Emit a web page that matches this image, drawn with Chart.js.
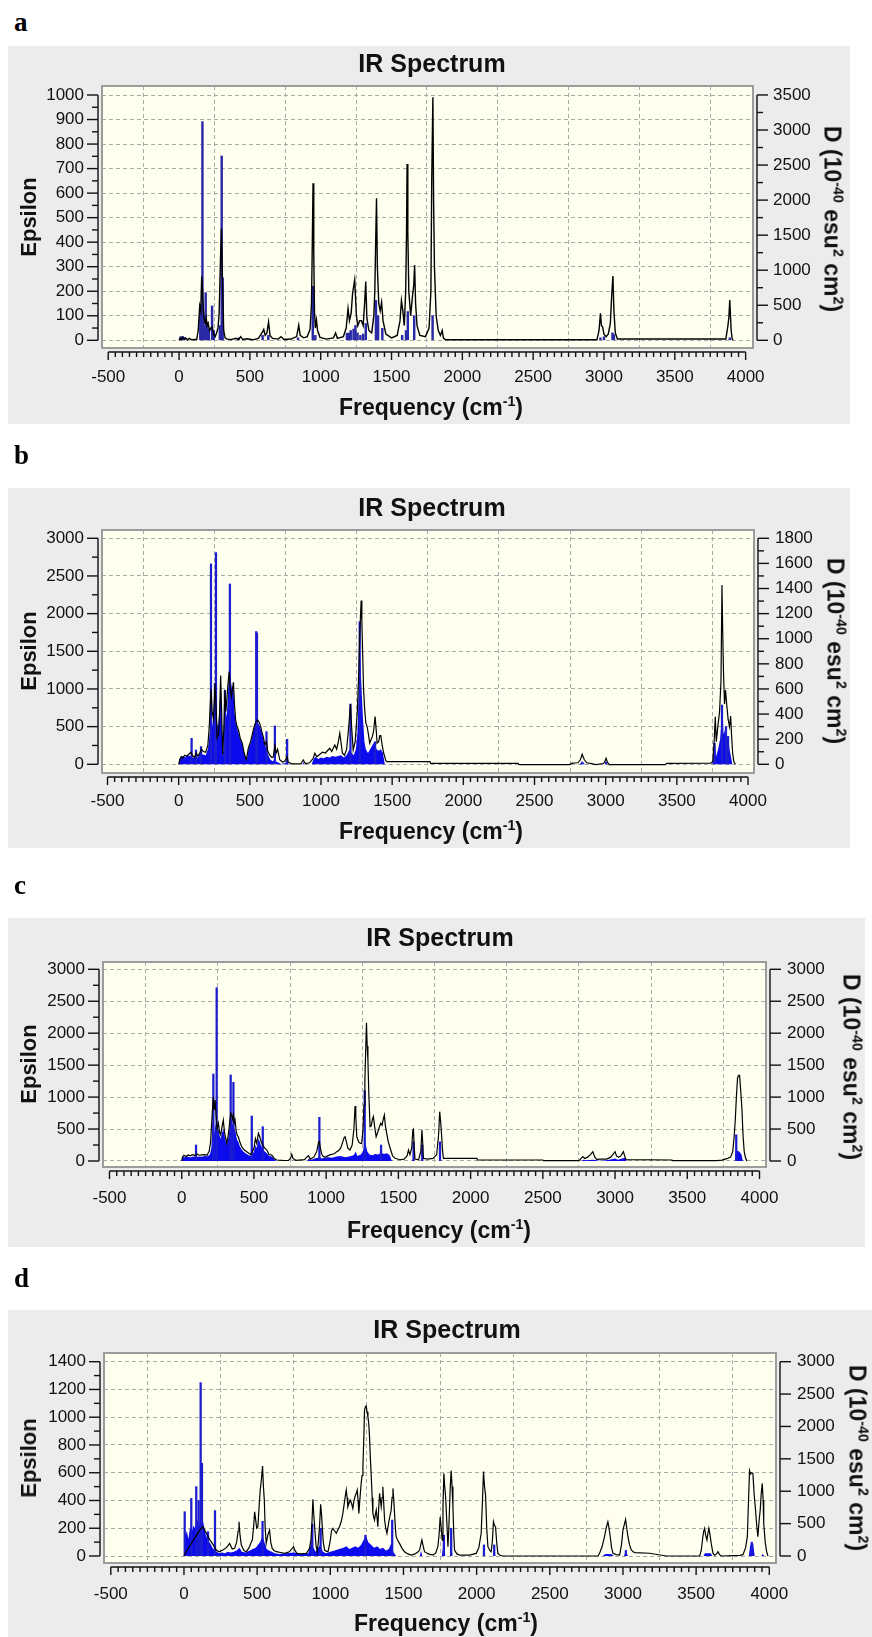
<!DOCTYPE html>
<html><head><meta charset="utf-8">
<script src="https://cdn.jsdelivr.net/npm/chart.js@4.4.0/dist/chart.umd.min.js"></script>
<style>
html,body{margin:0;padding:0;background:#fff;}
body{width:872px;height:1637px;position:relative;overflow:hidden;font-family:"Liberation Sans",Arial,Helvetica,sans-serif;}
.lab{position:absolute;font-family:"Liberation Serif","Times New Roman",serif;font-weight:bold;font-size:27px;line-height:1;color:#000;}
.panel{position:absolute;background:#ececec;}
.panel canvas{position:absolute;left:0;top:0;}
.t{position:absolute;font-weight:bold;white-space:nowrap;color:#111;line-height:1;transform:translate(-50%,-50%);}
.title{font-size:25px;}
.xt{font-size:23px;}
.yl{font-size:22px;transform:translate(-50%,-50%) rotate(-90deg);}
.yr{font-size:23px;transform:translate(-50%,-50%) rotate(90deg);}
sup{font-size:0.62em;vertical-align:baseline;position:relative;top:-0.6em;}
</style></head><body>

<div class="lab" style="left:14px;top:9px">a</div>
<div class="panel" style="left:8px;top:46px;width:842px;height:378px"><canvas id="ca" width="842" height="378" style="width:842px;height:378px"></canvas></div>
<div class="t title" style="left:432px;top:63px">IR Spectrum</div>
<div class="t xt" style="left:431px;top:407px">Frequency (cm<sup>-1</sup>)</div>
<div class="t yl" style="left:29px;top:217px">Epsilon</div>
<div class="t yr" style="left:832px;top:219px">D (10<sup>-40</sup> esu<sup>2</sup> cm<sup>2</sup>)</div>

<div class="lab" style="left:14px;top:442px">b</div>
<div class="panel" style="left:8px;top:488px;width:842px;height:360px"><canvas id="cb" width="842" height="360" style="width:842px;height:360px"></canvas></div>
<div class="t title" style="left:432px;top:507px">IR Spectrum</div>
<div class="t xt" style="left:431px;top:831px">Frequency (cm<sup>-1</sup>)</div>
<div class="t yl" style="left:29px;top:651px">Epsilon</div>
<div class="t yr" style="left:835px;top:651px">D (10<sup>-40</sup> esu<sup>2</sup> cm<sup>2</sup>)</div>

<div class="lab" style="left:14px;top:872px">c</div>
<div class="panel" style="left:8px;top:918px;width:857px;height:329px"><canvas id="cc" width="857" height="329" style="width:857px;height:329px"></canvas></div>
<div class="t title" style="left:440px;top:937px">IR Spectrum</div>
<div class="t xt" style="left:439px;top:1230px">Frequency (cm<sup>-1</sup>)</div>
<div class="t yl" style="left:29px;top:1064px">Epsilon</div>
<div class="t yr" style="left:851px;top:1067px">D (10<sup>-40</sup> esu<sup>2</sup> cm<sup>2</sup>)</div>

<div class="lab" style="left:14px;top:1265px">d</div>
<div class="panel" style="left:8px;top:1310px;width:864px;height:327px"><canvas id="cd" width="864" height="327" style="width:864px;height:327px"></canvas></div>
<div class="t title" style="left:447px;top:1329px">IR Spectrum</div>
<div class="t xt" style="left:446px;top:1623px">Frequency (cm<sup>-1</sup>)</div>
<div class="t yl" style="left:29px;top:1458px">Epsilon</div>
<div class="t yr" style="left:857px;top:1458px">D (10<sup>-40</sup> esu<sup>2</sup> cm<sup>2</sup>)</div>

<script>
// ---------- tick labels ----------
const xTicks = [-500,0,500,1000,1500,2000,2500,3000,3500,4000];
const aYTicks = [0,100,200,300,400,500,600,700,800,900,1000];
const aY2Ticks = [0,500,1000,1500,2000,2500,3000,3500];
const bYTicks = [0,500,1000,1500,2000,2500,3000];
const bY2Ticks = [0,200,400,600,800,1000,1200,1400,1600,1800];
const cYTicks = [0,500,1000,1500,2000,2500,3000];
const cY2Ticks = [0,500,1000,1500,2000,2500,3000];
const dYTicks = [0,200,400,600,800,1000,1200,1400];
const dY2Ticks = [0,500,1000,1500,2000,2500,3000];

// ---------- panel a ----------
// broadened spectrum [frequency cm-1, epsilon]
const aCurve = [[0,0],[8,10],[16,3],[26,12],[36,3],[48,9],[60,2],[72,8],[85,3],[100,2],[125,4],[135,40],[146,140],[153,120],[160,260],[166,200],[172,120],[180,75],[186,70],[192,90],[198,60],[205,70],[215,40],[225,50],[233,55],[242,30],[255,15],[265,30],[275,50],[283,110],[292,320],[299,456],[306,260],[315,40],[325,10],[340,5],[370,3],[400,8],[420,3],[435,15],[450,3],[480,6],[520,2],[560,8],[585,30],[598,45],[608,20],[620,30],[632,75],[642,20],[660,8],[700,5],[720,15],[740,3],[790,5],[830,15],[845,62],[855,20],[880,10],[905,15],[925,45],[935,150],[940,360],[946,640],[951,360],[956,120],[962,50],[970,83],[978,40],[995,12],[1040,5],[1090,10],[1105,30],[1118,8],[1160,15],[1180,50],[1193,130],[1203,80],[1215,110],[1225,190],[1240,246],[1252,100],[1262,60],[1275,80],[1288,80],[1300,60],[1310,150],[1318,240],[1326,90],[1340,40],[1360,30],[1375,100],[1382,200],[1387,361],[1394,579],[1400,300],[1410,150],[1420,120],[1430,155],[1440,80],[1460,25],[1500,10],[1540,20],[1560,80],[1570,162],[1580,120],[1590,60],[1600,200],[1606,440],[1610,719],[1615,443],[1622,200],[1635,100],[1648,180],[1657,226],[1663,307],[1670,150],[1680,60],[1700,20],[1740,15],[1765,50],[1778,200],[1784,654],[1792,991],[1797,572],[1803,300],[1815,100],[1830,40],[1845,20],[1858,40],[1866,10],[1880,2],[2950,2],[2965,40],[2975,110],[2982,60],[2990,55],[3000,25],[3015,15],[3030,25],[3045,70],[3055,190],[3063,262],[3070,120],[3080,30],[3095,5],[3860,5],[3875,60],[3882,95],[3888,164],[3893,100],[3898,40],[3905,5],[3912,0]];
// stick intensities [frequency, D]
const aSticks = [[12,50],[25,55],[40,40],[150,490],[158,500],[165,3120],[172,350],[180,200],[188,680],[200,250],[210,150],[233,490],[245,140],[288,210],[301,2630],[308,890],[420,35],[590,70],[630,70],[840,35],[944,770],[962,70],[1185,100],[1198,105],[1212,140],[1232,160],[1245,210],[1260,105],[1280,70],[1300,90],[1318,240],[1390,570],[1405,350],[1435,170],[1575,70],[1602,140],[1615,410],[1660,350],[1790,350],[2975,35],[3000,50],[3060,105],[3070,80],[3888,35]];

// ---------- panel b ----------
const bCurve = [[0,0],[8,60],[18,100],[30,80],[42,120],[55,110],[70,130],[85,160],[91,140],[100,110],[112,90],[122,150],[135,110],[148,150],[160,200],[173,170],[190,160],[205,250],[215,500],[222,800],[228,1000],[235,700],[245,600],[255,1075],[262,800],[270,350],[280,400],[288,700],[295,1180],[302,700],[309,130],[318,500],[325,990],[332,700],[340,900],[348,1100],[355,1230],[362,1000],[370,900],[378,1000],[385,1090],[392,800],[400,590],[410,500],[420,455],[432,350],[447,280],[460,150],[475,60],[490,220],[505,300],[515,380],[525,460],[535,530],[545,570],[555,590],[565,560],[575,510],[585,430],[595,360],[605,260],[617,300],[625,180],[640,120],[655,90],[665,100],[676,250],[685,150],[695,200],[710,60],[730,30],[745,40],[762,100],[770,30],[790,10],[830,5],[860,10],[875,58],[890,10],[920,20],[945,80],[957,146],[970,100],[990,130],[1010,160],[1030,150],[1050,190],[1062,212],[1075,170],[1090,230],[1097,257],[1110,200],[1122,300],[1132,412],[1140,300],[1150,150],[1165,120],[1180,200],[1195,500],[1207,801],[1215,500],[1226,190],[1240,300],[1255,700],[1265,1200],[1272,1700],[1277,1950],[1282,2173],[1287,1900],[1292,1518],[1299,1000],[1307,721],[1315,550],[1324,500],[1333,400],[1342,280],[1352,330],[1361,367],[1370,450],[1380,633],[1388,450],[1394,280],[1405,300],[1413,380],[1420,380],[1430,250],[1440,150],[1448,102],[1455,50],[1462,35],[1765,35],[1770,13],[2385,13],[2392,-4],[2745,-4],[2765,15],[2805,20],[2822,60],[2835,133],[2850,60],[2868,20],[2900,10],[2930,-4],[2985,10],[2995,40],[3003,80],[3012,30],[3025,-4],[3420,-4],[3428,12],[3740,15],[3752,40],[3762,300],[3770,632],[3777,300],[3788,500],[3800,700],[3810,1100],[3817,2380],[3822,1780],[3828,1200],[3835,800],[3842,986],[3850,800],[3860,600],[3870,500],[3878,640],[3884,400],[3892,150],[3900,40],[3910,0]];
const bSticks = [[91,207],[122,114],[157,141],[227,1596],[255,645],[262,1686],[325,588],[360,1436],[545,1057],[550,1044],[617,260],[676,305],[762,199],[1207,480],[1272,1136],[1380,180],[2835,18],[3003,18],[3765,168],[3817,472],[3845,300],[3860,222]];
// envelope of the dense stick forest [frequency, epsilon]
const bFill = [[0,0],[3,60],[15,100],[30,110],[45,90],[60,120],[80,110],[100,80],[115,100],[135,90],[150,150],[170,130],[190,120],[205,200],[212,300],[220,450],[228,700],[236,500],[245,700],[252,1000],[258,1075],[265,800],[272,500],[280,545],[288,800],[295,1100],[302,600],[309,100],[315,200],[320,700],[325,950],[332,700],[338,620],[345,900],[353,1150],[360,1200],[367,1100],[375,1000],[384,1050],[392,700],[400,560],[410,480],[419,430],[432,340],[447,260],[460,150],[477,40],[490,200],[505,280],[515,350],[525,450],[536,520],[548,560],[560,540],[571,500],[583,430],[594,350],[605,250],[617,200],[630,120],[645,60],[660,40],[676,60],[690,30],[705,20],[720,5],[740,15],[765,10],[790,0],[870,0],[875,30],[885,0],[935,0],[945,60],[960,100],[980,70],[1000,90],[1020,80],[1040,100],[1060,90],[1080,110],[1100,100],[1120,110],[1140,120],[1160,90],[1180,120],[1200,200],[1215,150],[1230,120],[1245,200],[1255,400],[1265,900],[1275,1400],[1285,1000],[1295,600],[1305,300],[1315,200],[1330,150],[1345,200],[1360,250],[1375,300],[1390,200],[1405,180],[1420,200],[1435,150],[1448,0],[2815,0],[2835,30],[2855,0],[2995,0],[3003,30],[3012,0],[3750,0],[3760,150],[3768,280],[3775,100],[3790,200],[3805,350],[3815,600],[3820,790],[3828,400],[3838,450],[3845,500],[3852,300],[3860,370],[3870,200],[3880,100],[3890,0]];

// ---------- panel c ----------
const cCurve = [[0,0],[5,60],[15,90],[30,70],[45,95],[60,80],[75,100],[90,85],[105,110],[120,90],[140,95],[160,100],[175,90],[190,150],[200,300],[210,700],[219,1000],[225,800],[231,955],[238,700],[245,500],[254,590],[262,450],[270,407],[280,550],[288,641],[296,450],[305,350],[312,276],[322,400],[332,600],[339,750],[346,720],[352,650],[358,720],[364,600],[369,641],[378,450],[385,400],[392,380],[402,300],[415,224],[430,180],[450,146],[465,120],[478,100],[490,150],[500,200],[510,350],[519,276],[525,350],[531,433],[540,380],[550,300],[561,250],[575,200],[589,172],[605,100],[623,94],[640,40],[658,16],[700,10],[740,8],[755,50],[762,104],[770,40],[790,10],[850,20],[865,60],[877,83],[890,30],[915,60],[935,150],[948,300],[953,302],[960,200],[970,100],[981,68],[995,60],[1010,80],[1030,100],[1050,110],[1065,130],[1073,146],[1085,160],[1100,200],[1115,300],[1125,370],[1131,380],[1140,300],[1150,200],[1165,172],[1180,250],[1192,500],[1200,860],[1205,700],[1212,380],[1225,300],[1237,276],[1246,276],[1255,500],[1262,876],[1268,1250],[1274,1763],[1279,2165],[1284,1800],[1289,1580],[1296,1000],[1304,537],[1312,550],[1320,650],[1327,694],[1335,550],[1346,380],[1357,450],[1369,537],[1378,590],[1387,560],[1395,650],[1403,720],[1410,550],[1419,433],[1430,300],[1447,172],[1460,80],[1477,42],[1510,20],[1540,30],[1560,80],[1570,172],[1580,100],[1592,200],[1600,480],[1604,495],[1610,200],[1615,30],[1640,20],[1655,150],[1663,485],[1668,300],[1673,42],[1700,30],[1740,40],[1765,100],[1778,400],[1786,772],[1793,600],[1800,380],[1806,150],[1812,42],[2043,42],[2048,16],[2500,16],[2505,5],[2750,5],[2777,68],[2790,40],[2810,60],[2830,100],[2846,146],[2860,60],[2873,26],[2900,30],[2942,30],[2970,60],[2985,100],[3000,146],[3010,80],[3024,57],[3040,80],[3050,120],[3058,146],[3066,80],[3076,20],[3394,16],[3400,5],[3705,5],[3740,15],[3774,36],[3800,60],[3815,150],[3825,400],[3832,625],[3840,1000],[3848,1300],[3855,1340],[3862,1340],[3870,1100],[3878,830],[3886,400],[3894,150],[3903,50],[3912,0]];
const cSticks = [[99,250],[219,1361],[242,2712],[339,1346],[358,1231],[485,704],[561,537],[953,683],[1267,1100],[1380,250],[1605,300],[1665,250],[1788,300],[3839,410]];
const cFill = [[0,0],[3,70],[20,60],[40,70],[60,55],[80,70],[100,60],[120,70],[140,65],[160,80],[180,75],[195,100],[205,200],[212,500],[219,700],[225,400],[231,600],[238,500],[245,450],[254,500],[262,400],[270,350],[280,450],[288,500],[296,400],[305,300],[312,250],[322,350],[332,500],[339,650],[346,650],[352,550],[358,600],[364,500],[369,500],[378,380],[385,320],[392,300],[402,230],[415,180],[430,140],[450,110],[465,90],[478,80],[490,100],[500,150],[510,250],[519,200],[525,280],[531,350],[540,300],[550,230],[561,200],[575,150],[589,120],[605,80],[623,70],[640,30],[655,0],[758,0],[762,40],[766,0],[870,0],[877,30],[900,20],[920,40],[940,50],[955,60],[970,40],[990,50],[1010,60],[1040,50],[1070,70],[1100,80],[1130,60],[1160,70],[1190,90],[1205,150],[1215,80],[1240,100],[1255,150],[1270,300],[1285,150],[1300,100],[1320,90],[1340,110],[1360,100],[1380,130],[1400,110],[1420,120],[1440,90],[1455,0],[1595,0],[1603,50],[1611,0],[1658,0],[1665,60],[1672,0],[1780,0],[1788,80],[1796,0],[2770,0],[2780,20],[2800,10],[2850,20],[2900,0],[2960,20],[3000,40],[3020,20],[3050,40],[3070,50],[3080,0],[3830,0],[3837,200],[3845,160],[3860,150],[3875,100],[3885,0]];

// ---------- panel d ----------
const dCurve = [[0,0],[20,40],[50,90],[80,140],[110,190],[130,211],[150,170],[175,120],[200,80],[221,43],[240,30],[266,43],[290,60],[312,91],[330,50],[346,55],[360,100],[370,180],[376,247],[383,150],[392,79],[410,40],[426,31],[445,60],[460,100],[467,115],[475,200],[483,319],[490,260],[497,200],[505,211],[513,350],[521,475],[530,560],[537,648],[543,500],[549,403],[555,200],[562,91],[573,150],[585,187],[593,100],[603,55],[615,40],[631,31],[660,25],[688,19],[720,30],[740,55],[749,67],[758,40],[772,19],[800,15],[836,19],[850,40],[858,55],[868,120],[874,223],[881,408],[887,300],[893,211],[902,80],[911,31],[918,100],[927,223],[934,372],[940,300],[945,211],[952,100],[961,43],[972,35],[984,31],[992,70],[1000,115],[1008,180],[1018,199],[1030,180],[1041,163],[1052,190],[1063,211],[1075,250],[1086,307],[1098,400],[1109,475],[1115,420],[1120,355],[1128,380],[1136,403],[1145,380],[1154,343],[1162,400],[1170,432],[1177,450],[1184,475],[1190,400],[1195,307],[1203,420],[1211,523],[1217,580],[1223,643],[1229,850],[1234,1052],[1240,1075],[1245,1081],[1251,1040],[1257,1004],[1263,950],[1268,860],[1274,700],[1280,571],[1286,420],[1291,307],[1297,280],[1302,259],[1308,300],[1314,331],[1320,270],[1325,211],[1331,350],[1337,451],[1343,400],[1348,355],[1354,420],[1359,499],[1365,380],[1371,259],[1379,200],[1387,163],[1393,200],[1400,247],[1408,290],[1416,331],[1422,420],[1428,487],[1434,400],[1439,307],[1445,200],[1450,139],[1462,110],[1473,91],[1490,55],[1507,31],[1530,15],[1553,7],[1580,15],[1600,30],[1610,43],[1618,80],[1626,115],[1635,70],[1644,31],[1670,15],[1701,7],[1720,20],[1735,67],[1743,150],[1751,283],[1758,200],[1765,115],[1770,350],[1776,596],[1782,500],[1788,427],[1796,250],[1804,67],[1810,200],[1815,355],[1820,500],[1826,615],[1832,500],[1838,355],[1844,150],[1849,43],[1865,15],[1883,7],[1950,7],[1997,19],[2015,60],[2031,163],[2040,400],[2047,608],[2054,500],[2061,439],[2069,200],[2077,67],[2090,40],[2099,31],[2107,100],[2115,247],[2122,220],[2129,211],[2137,100],[2145,19],[2160,5],[2179,0],[2830,0],[2840,19],[2858,70],[2874,139],[2885,200],[2897,247],[2905,200],[2913,139],[2922,60],[2932,19],[2955,10],[2977,7],[2990,80],[3000,187],[3010,230],[3018,264],[3026,200],[3034,139],[3045,80],[3057,43],[3070,30],[3080,25],[3182,20],[3296,0],[3524,0],[3535,40],[3546,139],[3552,180],[3558,199],[3565,150],[3574,115],[3580,160],[3587,199],[3595,150],[3603,91],[3615,20],[3626,5],[3640,15],[3649,31],[3660,10],[3672,0],[3800,5],[3820,10],[3838,60],[3850,139],[3858,400],[3865,615],[3872,590],[3880,600],[3888,595],[3896,450],[3906,331],[3914,220],[3922,139],[3930,250],[3938,331],[3945,450],[3952,523],[3958,400],[3962,235],[3972,100],[3982,30],[3991,0]];
const dSticks = [[5,684],[50,889],[84,1071],[100,857],[114,2676],[123,1431],[164,375],[212,701],[537,536],[877,493],[934,429],[1240,321],[1423,555],[1776,321],[1826,429],[2050,171],[2120,171],[3020,86],[3880,214]];
const dFill = [[0,0],[3,200],[10,150],[20,180],[30,120],[40,200],[55,180],[65,220],[75,200],[90,260],[105,220],[120,400],[130,250],[140,200],[150,150],[165,110],[180,90],[195,60],[210,40],[225,30],[240,20],[260,25],[280,20],[300,30],[320,25],[340,30],[360,40],[380,60],[395,30],[420,25],[450,40],[470,50],[490,60],[505,80],[520,100],[537,150],[550,100],[565,50],[580,40],[600,30],[620,20],[650,15],[700,20],[750,25],[800,15],[850,20],[870,100],[885,60],[900,30],[930,80],[950,30],[970,20],[1000,30],[1030,40],[1060,50],[1090,60],[1110,70],[1130,50],[1150,60],[1170,70],[1190,60],[1210,80],[1230,120],[1245,140],[1260,100],[1280,80],[1300,60],[1320,70],[1340,50],[1360,60],[1380,40],[1400,50],[1420,100],[1430,30],[1450,0],[1612,0],[1620,40],[1628,0],[1762,0],[1770,60],[1778,120],[1786,0],[1818,0],[1826,150],[1834,0],[2042,0],[2050,60],[2058,0],[2112,0],[2120,60],[2128,0],[2860,0],[2880,15],[2920,15],[2940,0],[3005,0],[3020,30],[3035,0],[3550,0],[3560,20],[3600,20],[3610,0],[3860,0],[3870,80],[3890,90],[3900,0],[3945,0],[3955,15],[3965,0]];

// ---------- drawing ----------
const FONT = '"Liberation Sans", Arial, Helvetica, sans-serif';
const CREAM = '#fffff0', BOXC = '#9c9c9c', GRID = '#a9a9a9', INK = '#111';

const axisDeco = {
  id: 'axisDeco',
  beforeDraw(chart) {
    const a = chart.chartArea, c = chart.ctx;
    c.save(); c.fillStyle = CREAM; c.fillRect(a.left, a.top, a.right - a.left, a.bottom - a.top); c.restore();
  },
  afterDraw(chart, args, o) {
    const a = chart.chartArea, c = chart.ctx;
    c.save();
    c.strokeStyle = BOXC; c.lineWidth = 2;
    c.strokeRect(a.left, a.top, a.right - a.left, a.bottom - a.top);
    c.strokeStyle = INK; c.lineWidth = 1.4;
    const L = (x1, y1, x2, y2) => { c.beginPath(); c.moveTo(x1, y1); c.lineTo(x2, y2); c.stroke(); };
    const vAxis = (scale, x, dir, minor) => {
      const t = scale.ticks.map(k => k.value);
      const p = t.map(v => scale.getPixelForValue(v));
      L(x, Math.min(...p), x, Math.max(...p));
      p.forEach(py => L(x, py, x + dir * 11, py));
      if (minor) for (let i = 0; i < t.length - 1; i++) {
        const py = scale.getPixelForValue((t[i] + t[i + 1]) / 2);
        L(x, py, x + dir * 6, py);
      }
    };
    vAxis(chart.scales.y, a.left - 4, -1, true);
    vAxis(chart.scales.y2, a.right + 4, 1, o.rightMinor);
    const xs = chart.scales.x, by = a.bottom + 4;
    const t = xs.ticks.map(k => k.value);
    L(xs.getPixelForValue(t[0]), by, xs.getPixelForValue(t[t.length - 1]), by);
    for (let v = t[0]; v <= t[t.length - 1]; v += 50) {
      const px = xs.getPixelForValue(v);
      L(px, by, px, by + (v % 500 === 0 ? 8 : 5));
    }
    c.restore();
  }
};

function tickFont() { return {family: FONT, size: 17}; }

function build(id, P) {
  const ds = [
    {type: 'line', data: P.curve, yAxisID: 'y', borderColor: '#000', borderWidth: P.lw, pointRadius: 0, tension: 0, fill: false, order: 0},
    {type: 'bar', data: P.sticks.map(s => ({x: s[0], y: s[1]})), yAxisID: 'y2', backgroundColor: P.stickColor, barThickness: P.bt, order: 1}
  ];
  if (P.fillData) ds.push({type: 'line', data: P.fillData, yAxisID: 'y', borderColor: 'rgba(0,0,0,0)', borderWidth: 0, backgroundColor: P.fillColor, fill: 'origin', pointRadius: 0, tension: 0, order: 2});
  const gridOpts = {display: true, drawOnChartArea: true, drawTicks: false, color: GRID, lineWidth: 1};
  new Chart(document.getElementById(id), {
    type: 'line',
    data: {datasets: ds},
    options: {
      responsive: false, animation: false, devicePixelRatio: 1, events: [],
      layout: {padding: {top: P.padTop, left: 0, right: 0, bottom: 0}},
      plugins: {legend: {display: false}, tooltip: {enabled: false}, axisDeco: {rightMinor: P.rightMinor}},
      scales: {
        x: {type: 'linear', bounds: 'data', min: P.xMin, max: P.xMax, offset: false,
          afterBuildTicks: s => { s.ticks = xTicks.map(v => ({value: v})); },
          afterFit: s => { s.height = P.xH; },
          grid: gridOpts, border: {display: false, dash: [4, 3]},
          ticks: {font: tickFont(), color: INK, padding: P.xPad, maxRotation: 0, minRotation: 0, autoSkip: false, callback: v => String(v)}},
        y: {type: 'linear', position: 'left', bounds: 'data', min: P.yMin, max: P.yMax,
          afterBuildTicks: s => { s.ticks = P.yTicks.map(v => ({value: v})); },
          afterFit: s => { s.width = P.yW; },
          grid: gridOpts, border: {display: false, dash: [4, 3]},
          ticks: {font: tickFont(), color: INK, padding: P.yPad, autoSkip: false, callback: v => String(v)}},
        y2: {type: 'linear', position: 'right', bounds: 'data', min: P.y2Min, max: P.y2Max,
          afterBuildTicks: s => { s.ticks = P.y2Ticks.map(v => ({value: v})); },
          afterFit: s => { s.width = P.y2W; },
          grid: {display: true, drawOnChartArea: false, drawTicks: false}, border: {display: false},
          ticks: {font: tickFont(), color: INK, padding: P.y2Pad, autoSkip: false, callback: v => String(v)}}
      }
    },
    plugins: [axisDeco]
  });
}

build('ca', {curve: aCurve, sticks: aSticks, stickColor: '#2a2aa8', bt: 1.8, lw: 1.4,
  padTop: 40, yW: 94, y2W: 97, xH: 76, xPad: 19, yPad: 18, y2Pad: 20,
  xMin: -544, xMax: 4052, yMin: -31.4, yMax: 1036.7, y2Min: -110, y2Max: 3628,
  yTicks: aYTicks, y2Ticks: aY2Ticks, rightMinor: true});
build('cb', {curve: bCurve, sticks: bSticks, fillData: bFill, stickColor: '#1c1cd0', fillColor: '#0b0bee', bt: 1.6, lw: 1.2,
  padTop: 42, yW: 94, y2W: 96, xH: 75, xPad: 18, yPad: 18, y2Pad: 21,
  xMin: -538.6, xMax: 4042, yMin: -115.5, yMax: 3110, y2Min: -69.3, y2Max: 1866,
  yTicks: bYTicks, y2Ticks: bY2Ticks, rightMinor: true});
build('cc', {curve: cCurve, sticks: cSticks, fillData: cFill, stickColor: '#1c1cd0', fillColor: '#0b0bee', bt: 1.6, lw: 1.2,
  padTop: 44, yW: 95, y2W: 99, xH: 80, xPad: 21, yPad: 18, y2Pad: 21,
  xMin: -545, xMax: 4045, yMin: -93.9, yMax: 3114, y2Min: -93.9, y2Max: 3114,
  yTicks: cYTicks, y2Ticks: cY2Ticks, rightMinor: false});
build('cd', {curve: dCurve, sticks: dSticks, fillData: dFill, stickColor: '#1c1cd0', fillColor: '#0b0bee', bt: 1.6, lw: 1.2,
  padTop: 43, yW: 96, y2W: 96, xH: 74, xPad: 21, yPad: 18, y2Pad: 21,
  xMin: -546.5, xMax: 4045.8, yMin: -50.4, yMax: 1462.7, y2Min: -108, y2Max: 3134,
  yTicks: dYTicks, y2Ticks: dY2Ticks, rightMinor: false});
</script>
</body></html>
